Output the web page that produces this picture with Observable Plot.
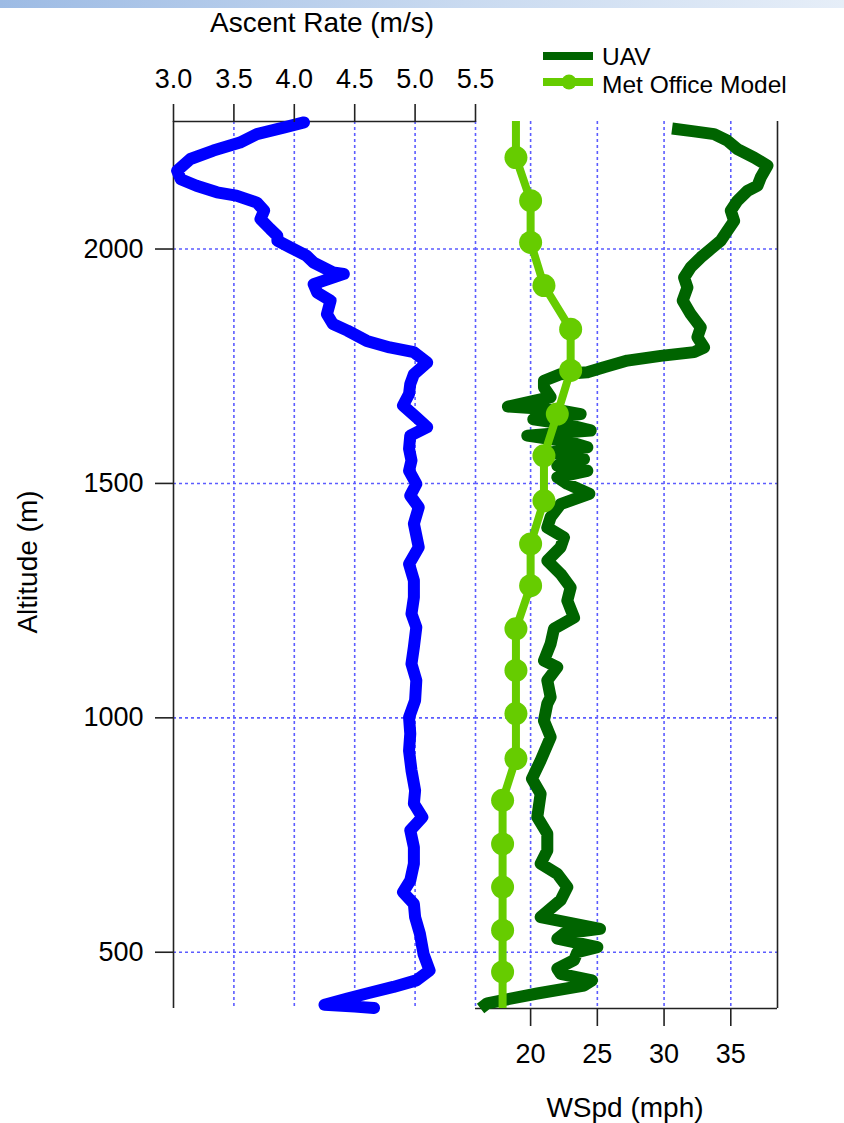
<!DOCTYPE html>
<html><head><meta charset="utf-8">
<script src="https://cdn.jsdelivr.net/npm/d3@7"></script>
<script src="https://cdn.jsdelivr.net/npm/@observablehq/plot@0.6"></script>
<style>
html,body{margin:0;padding:0;background:#fff;}
#root{position:relative;width:844px;height:1123px;overflow:hidden;font-family:"Liberation Sans",Arial,sans-serif;color:#000;}
#root > svg{position:absolute;left:0;top:0;}
#bar{position:absolute;left:0;top:0;width:844px;height:8px;background:linear-gradient(90deg,#9dbbe4,#c9daf0 55%,#e6eef8);}
</style></head><body><div id="root"><div id="bar"></div></div>
<script>
// ---- data ----
const altTicks = [500, 1000, 1500, 2000];
const ascentTicks = [3.0, 3.5, 4.0, 4.5, 5.0, 5.5];
const windTicks = [20, 25, 30, 35];
const altDomain = [380, 2272];
const ascentDomain = [3.0, 5.5];
const windDomain = [15.87, 38.5];

// Ascent rate profile (altitude m, rate m/s)
const ascentAlt = [2270, 2259, 2245, 2227, 2210, 2192, 2167, 2149, 2135, 2121, 2114, 2099, 2082, 2064, 2043, 2028, 2018, 2003, 1986, 1971, 1950, 1947, 1925, 1907, 1890, 1861, 1840, 1826, 1804, 1790, 1780, 1758, 1733, 1712, 1691, 1666, 1641, 1620, 1602, 1574, 1549, 1527, 1499, 1474, 1449, 1414, 1364, 1328, 1293, 1257, 1222, 1193, 1151, 1115, 1080, 1037, 1001, 966, 930, 888, 845, 817, 788, 760, 724, 689, 653, 628, 603, 575, 539, 496, 461, 440, 426, 412, 401, 388, 384, 381];
const ascentRate = [4.08, 3.91, 3.69, 3.55, 3.33, 3.14, 3.03, 3.06, 3.19, 3.36, 3.52, 3.69, 3.75, 3.72, 3.80, 3.86, 3.86, 3.97, 4.10, 4.16, 4.32, 4.41, 4.16, 4.19, 4.30, 4.27, 4.32, 4.44, 4.60, 4.79, 4.99, 5.10, 4.99, 4.96, 4.95, 4.90, 5.01, 5.10, 4.96, 4.95, 4.97, 4.95, 5.01, 4.96, 5.03, 4.99, 5.03, 4.95, 4.99, 4.99, 4.97, 5.01, 4.99, 4.97, 5.01, 5.00, 4.95, 4.96, 4.95, 4.97, 5.00, 4.99, 5.06, 4.96, 4.99, 4.99, 4.96, 4.90, 4.99, 5.00, 5.04, 5.07, 5.12, 5.01, 4.82, 4.60, 4.44, 4.25, 4.50, 4.66];

// UAV wind speed profile (altitude m, mph)
const uavAlt = [2257, 2251, 2245, 2231, 2213, 2195, 2178, 2153, 2135, 2124, 2103, 2082, 2060, 2039, 2018, 2000, 1982, 1961, 1939, 1918, 1890, 1861, 1833, 1812, 1790, 1780, 1772, 1762, 1748, 1737, 1733, 1719, 1705, 1684, 1664, 1657, 1648, 1637, 1627, 1613, 1602, 1588, 1577, 1566, 1552, 1538, 1527, 1513, 1499, 1478, 1456, 1428, 1406, 1385, 1364, 1335, 1307, 1278, 1250, 1214, 1190, 1158, 1122, 1108, 1080, 1044, 1030, 994, 959, 909, 870, 838, 788, 753, 717, 689, 667, 639, 611, 575, 550, 540, 529, 511, 500, 483, 465, 454, 440, 429, 412, 401, 391, 380];
const uavWind = [30.6, 32.25, 33.75, 34.75, 35.5, 36.75, 37.75, 37.25, 37.0, 36.25, 35.5, 35.0, 35.25, 34.75, 34.25, 33.5, 32.75, 32.0, 31.5, 31.75, 31.4, 32.0, 32.75, 32.5, 33.0, 32.25, 29.75, 27.25, 25.5, 24.25, 22.25, 21.0, 21.0, 21.5, 18.3, 22.0, 23.75, 20.2, 22.5, 24.5, 19.75, 23.0, 24.25, 21.5, 24.0, 22.0, 24.25, 22.0, 22.75, 24.4, 22.25, 21.5, 21.25, 22.5, 22.25, 21.25, 22.25, 23.0, 22.75, 23.25, 21.75, 21.5, 21.0, 22.0, 21.25, 21.5, 21.25, 21.0, 21.5, 20.75, 20.1, 20.75, 20.5, 21.25, 21.25, 20.75, 22.0, 22.75, 22.25, 20.75, 25.2, 22.5, 22.0, 25.0, 23.5, 23.25, 22.0, 22.25, 24.6, 24.0, 20.5, 18.5, 16.75, 16.25];

// Met Office model levels (altitude m, mph)
const metAlt = [2288, 2195, 2103, 2014, 1922, 1829, 1741, 1648, 1559, 1463, 1371, 1282, 1190, 1101, 1009, 913, 824, 731, 639, 547, 458, 366];
const metWind = [18.9, 18.9, 20.0, 20.0, 21.0, 23.0, 23.0, 22.0, 21.0, 21.0, 20.0, 20.0, 18.9, 18.9, 18.9, 18.9, 17.9, 17.9, 17.9, 17.9, 17.9, 17.9];

const seriesNames = ["UAV", "Met Office Model"];
const seriesColors = ["#006400", "#66cc00"];

// ---- build ----
const ascentData = ascentAlt.map((alt, i) => ({alt, rate: ascentRate[i]}));
const uavData = uavAlt.map((alt, i) => ({alt, wind: uavWind[i]}));
const metData = metAlt.map((alt, i) => ({alt, wind: metWind[i]}));
const inDomain = d => d.alt >= altDomain[0] && d.alt <= altDomain[1];

const gridColor = "#5c5cff";
const axisColor = "#222";
const gridOpts = {stroke: gridColor, strokeWidth: 1.6, strokeDasharray: "3,3"};
const axisLine = {stroke: axisColor, strokeWidth: 1.6};
const font = "'Liberation Sans', Arial, sans-serif";
const W = 844, H = 1123;
const style = {background: "transparent", color: "#000", fontFamily: font, overflow: "visible"};

const plotA = Plot.plot({
  width: W, height: H,
  marginLeft: 173, marginRight: 369, marginTop: 121, marginBottom: 115,
  style,
  x: {type: "linear", domain: ascentDomain, axis: null},
  y: {type: "linear", domain: altDomain, axis: null},
  marks: [
    Plot.ruleX(ascentTicks.filter(d => d > ascentDomain[0]), gridOpts),
    Plot.ruleY(altTicks, gridOpts),
    Plot.ruleX([ascentDomain[0]], axisLine),
    Plot.ruleY([altDomain[1]], axisLine),
    Plot.line(ascentData, {x: "rate", y: "alt", stroke: "#0000ff", strokeWidth: 12, strokeLinejoin: "round", strokeLinecap: "round"}),
    Plot.axisX({anchor: "top", ticks: ascentTicks, tickFormat: d3.format(".1f"), tickSize: 18, tickPadding: 16, fontSize: 27, stroke: axisColor, strokeWidth: 1.6, fill: "#000", label: null}),
    Plot.axisY({anchor: "left", ticks: altTicks, tickFormat: d3.format("d"), tickSize: 18, tickPadding: 12, fontSize: 27, stroke: axisColor, strokeWidth: 1.6, fill: "#000", label: null})
  ]
});

const plotB = Plot.plot({
  width: W, height: H,
  marginLeft: 475, marginRight: 67, marginTop: 121, marginBottom: 115,
  style,
  x: {type: "linear", domain: windDomain, axis: null},
  y: {type: "linear", domain: altDomain, axis: null},
  marks: [
    Plot.ruleX(windTicks, gridOpts),
    Plot.ruleY(altTicks, gridOpts),
    Plot.ruleY([altDomain[0]], axisLine),
    Plot.ruleX([windDomain[1]], axisLine),
    Plot.line(uavData, {x: "wind", y: "alt", stroke: seriesColors[0], strokeWidth: 12, strokeLinejoin: "round", strokeLinecap: "butt"}),
    Plot.line(metData, {x: "wind", y: "alt", stroke: seriesColors[1], strokeWidth: 8, clip: true}),
    Plot.dot(metData.filter(inDomain), {x: "wind", y: "alt", r: 11.5, fill: seriesColors[1], stroke: null}),
    Plot.axisX({anchor: "bottom", ticks: windTicks, tickFormat: d3.format("d"), tickSize: 18, tickPadding: 17.5, fontSize: 27, stroke: axisColor, strokeWidth: 1.6, fill: "#000", label: null})
  ]
});

const root = document.getElementById("root");
root.appendChild(plotA);
root.appendChild(plotB);

// titles and legend overlay
const ns = "http://www.w3.org/2000/svg";
const ov = document.createElementNS(ns, "svg");
ov.setAttribute("width", W); ov.setAttribute("height", H);
ov.setAttribute("font-family", font);
ov.innerHTML = `
  <text x="322" y="31.5" font-size="28" text-anchor="middle" fill="#000">Ascent Rate (m/s)</text>
  <text x="625" y="1117" font-size="28" text-anchor="middle" fill="#000">WSpd (mph)</text>
  <text transform="translate(37,562) rotate(-90)" font-size="28" text-anchor="middle" fill="#000">Altitude (m)</text>
  <line x1="543" x2="593" y1="56" y2="56" stroke="${seriesColors[0]}" stroke-width="8"/>
  <text x="602" y="64.5" font-size="24.5" fill="#000">${seriesNames[0]}</text>
  <line x1="543" x2="593" y1="82" y2="82" stroke="${seriesColors[1]}" stroke-width="8"/>
  <circle cx="569" cy="82" r="7.5" fill="${seriesColors[1]}"/>
  <text x="602" y="93.3" font-size="24.5" fill="#000">${seriesNames[1]}</text>`;
root.appendChild(ov);
</script></body></html>
